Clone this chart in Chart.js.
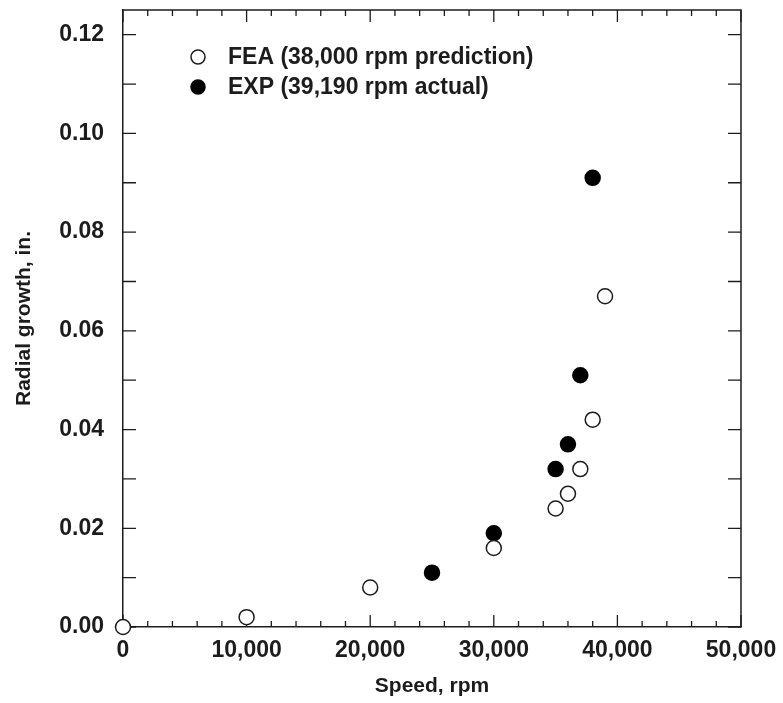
<!DOCTYPE html>
<html>
<head>
<meta charset="utf-8">
<script src="https://cdn.jsdelivr.net/npm/chart.js@4"></script>
<style>
  html, body { margin: 0; padding: 0; background: #fff; }
  canvas { display: block; }
</style>
</head>
<body>
<canvas id="growth-chart" width="783" height="703"></canvas>
<script>
// FEA prediction (open circles)
const feaSpeed = [0, 10000, 20000, 30000, 35000, 36000, 37000, 38000, 39000];
const feaGrowth = [0.000, 0.002, 0.008, 0.016, 0.024, 0.027, 0.032, 0.042, 0.067];

// experiment (filled circles)
const expSpeed = [25000, 30000, 35000, 36000, 37000, 38000];
const expGrowth = [0.011, 0.019, 0.032, 0.037, 0.051, 0.091];

const xTicks = [0, 10000, 20000, 30000, 40000, 50000];
const xMinorTicks = [2000, 4000, 6000, 8000, 12000, 14000, 16000, 18000, 22000, 24000, 26000, 28000,
    32000, 34000, 36000, 38000, 42000, 44000, 46000, 48000];
const yTicks = [0, 0.02, 0.04, 0.06, 0.08, 0.10, 0.12];
const yMinorTicks = [0.01, 0.03, 0.05, 0.07, 0.09, 0.11];

const ink = '#1c1c1c';
const fontFamily = '"Liberation Sans", Arial, Helvetica, sans-serif';

function toPoints(xs, ys) {
    return xs.map((x, i) => ({ x: x, y: ys[i] }));
}

// frame + inward tick marks on all four sides
const frameTicks = {
    id: 'frameTicks',
    beforeDatasetsDraw(chart) {
        const ctx = chart.ctx;
        const area = chart.chartArea;
        const xs = chart.scales.x;
        const ys = chart.scales.y;
        ctx.save();
        ctx.strokeStyle = ink;
        ctx.lineWidth = 1.5;
        ctx.beginPath();
        ctx.moveTo(area.left, area.top);
        ctx.lineTo(area.right, area.top);
        ctx.lineTo(area.right, area.bottom);
        ctx.stroke();

        ctx.lineWidth = 1.3;
        ctx.beginPath();
        const xTick = (v, len) => {
            const px = xs.getPixelForValue(v);
            ctx.moveTo(px, area.bottom);
            ctx.lineTo(px, area.bottom - len);
            ctx.moveTo(px, area.top);
            ctx.lineTo(px, area.top + len);
        };
        const yTick = (v, len) => {
            const py = ys.getPixelForValue(v);
            ctx.moveTo(area.left, py);
            ctx.lineTo(area.left + len, py);
            ctx.moveTo(area.right, py);
            ctx.lineTo(area.right - len, py);
        };
        xTicks.forEach(v => xTick(v, 12));
        xMinorTicks.forEach(v => xTick(v, 6));
        yTicks.forEach(v => yTick(v, 13));
        yMinorTicks.forEach(v => yTick(v, 13));
        ctx.stroke();
        ctx.restore();
    },
    afterDraw(chart) {
        // legend inside the plot, upper left
        const ctx = chart.ctx;
        const area = chart.chartArea;
        ctx.save();
        ctx.font = 'bold 23px ' + fontFamily;
        ctx.textBaseline = 'middle';
        ctx.textAlign = 'left';
        chart.data.datasets.forEach((ds, i) => {
            const cx = area.left + 75;
            const cy = area.top + 47 + i * 30;
            ctx.beginPath();
            ctx.arc(cx, cy, 7, 0, Math.PI * 2);
            ctx.fillStyle = ds.backgroundColor;
            ctx.fill();
            ctx.lineWidth = 1.5;
            ctx.strokeStyle = ds.borderColor;
            ctx.stroke();
            ctx.fillStyle = ink;
            ctx.fillText(ds.label, area.left + 105, cy + 1);
        });
        ctx.restore();
    }
};

const ctx = document.getElementById('growth-chart').getContext('2d');
const chart = new Chart(ctx, {
    type: 'scatter',
    data: {
        datasets: [{
            label: 'FEA (38,000 rpm prediction)',
            data: toPoints(feaSpeed, feaGrowth),
            backgroundColor: '#ffffff',
            borderColor: ink,
            borderWidth: 1.5,
            pointRadius: 7.5,
            clip: false
        }, {
            label: 'EXP (39,190 rpm actual)',
            data: toPoints(expSpeed, expGrowth),
            backgroundColor: '#000000',
            borderColor: '#000000',
            borderWidth: 1.5,
            pointRadius: 7.5,
            clip: false
        }]
    },
    options: {
        responsive: false,
        animation: false,
        layout: { autoPadding: false, padding: { top: 10, right: 42, left: 0, bottom: 0 } },
        plugins: {
            legend: { display: false },
            tooltip: { enabled: false }
        },
        scales: {
            x: {
                type: 'linear',
                min: 0,
                max: 50000,
                afterFit: scale => {
                    scale.height = 76;
                    scale.paddingLeft = 0;
                    scale.paddingRight = 0;
                },
                afterBuildTicks: scale => { scale.ticks = xTicks.map(v => ({ value: v })); },
                grid: { drawOnChartArea: false, drawTicks: false },
                border: { color: ink, width: 1.5 },
                ticks: {
                    padding: 10,
                    color: ink,
                    font: { family: fontFamily, size: 23, weight: 'bold' },
                    maxRotation: 0,
                    callback: v => v.toLocaleString('en-US')
                },
                title: {
                    display: true,
                    text: 'Speed, rpm',
                    color: ink,
                    font: { family: fontFamily, size: 21, weight: 'bold' },
                    padding: { top: 0, bottom: 4 }
                }
            },
            y: {
                type: 'linear',
                min: 0,
                max: 0.125,
                afterFit: scale => {
                    scale.width = 123;
                    scale.paddingTop = 0;
                    scale.paddingBottom = 0;
                },
                afterBuildTicks: scale => { scale.ticks = yTicks.map(v => ({ value: v })); },
                grid: { drawOnChartArea: false, drawTicks: false },
                border: { color: ink, width: 1.5 },
                ticks: {
                    padding: 19,
                    color: ink,
                    font: { family: fontFamily, size: 23, weight: 'bold' },
                    callback: v => v.toFixed(2)
                },
                title: {
                    display: true,
                    text: 'Radial growth, in.',
                    color: ink,
                    font: { family: fontFamily, size: 21, weight: 'bold' },
                    padding: { top: 12, bottom: 0 }
                }
            }
        }
    },
    plugins: [frameTicks]
});
</script>
</body>
</html>
